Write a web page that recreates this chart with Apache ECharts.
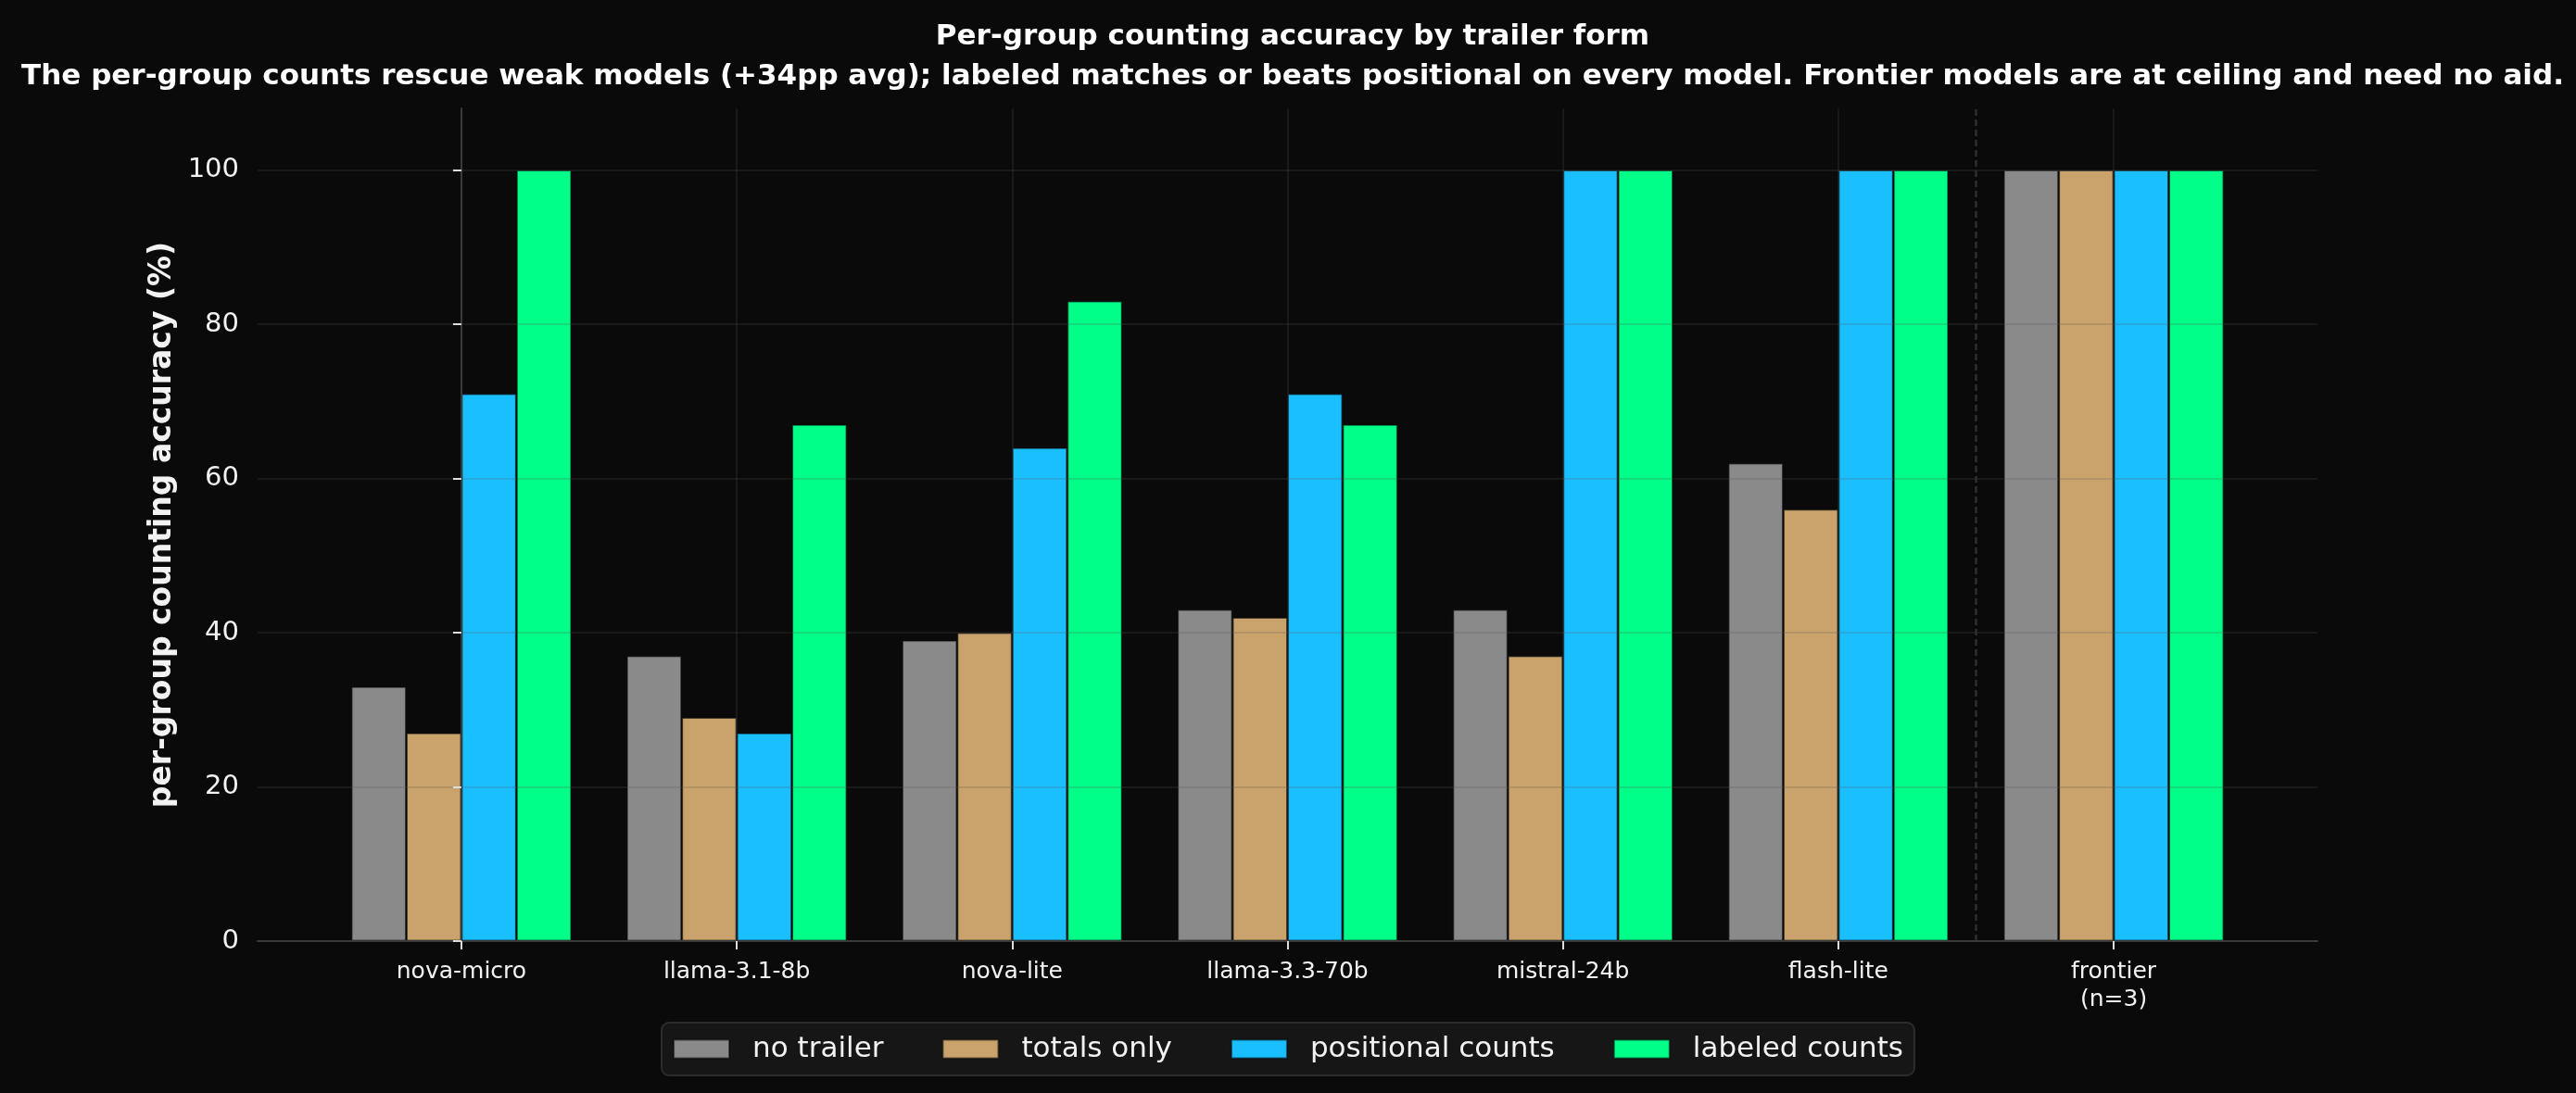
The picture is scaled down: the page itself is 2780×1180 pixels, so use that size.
<!DOCTYPE html>
<html>
<head>
<meta charset="utf-8">
<script src="https://cdn.jsdelivr.net/npm/echarts@6/dist/echarts.min.js"></script>
<style>
  html, body { margin: 0; background: #0a0a0a; }
  #chart { width: 2780px; height: 1180px; }
</style>
</head>
<body>
<div id="chart"></div>
<script>
const models = ['nova-micro', 'llama-3.1-8b', 'nova-lite', 'llama-3.3-70b', 'mistral-24b', 'flash-lite', 'frontier\n(n=3)'];
const noTrailer = [33, 37, 39, 43, 43, 62, 100];
const totalsOnly = [27, 29, 40, 42, 37, 56, 100];
const positional = [71, 27, 64, 71, 100, 100, 100];
const labeled = [100, 67, 83, 67, 100, 100, 100];
const seriesNames = ['no trailer', 'totals only', 'positional counts', 'labeled counts'];
const colors = ['#8a8a8a', '#c9a36b', '#1abfff', '#00ff88'];
const yTicks = [0, 20, 40, 60, 80, 100];
const xTicks = [0, 1, 2, 3, 4, 5, 6];
const separatorAt = 5.5;

const font = 'DejaVu Sans';
const gridLine = { color: 'rgba(85,85,85,0.28)', width: 1.5 };

var chart = echarts.init(document.getElementById('chart'));

const allValues = [noTrailer, totalsOnly, positional, labeled];
const series = allValues.map((vals, k) => ({
    name: seriesNames[k],
    type: 'bar',
    barWidth: '20%',
    barGap: '0%',
    data: vals.map((v, i) => [i, v]),
    itemStyle: {
        color: colors[k],
        borderColor: 'rgba(10,10,10,0.55)',
        borderWidth: 1.5
    }
}));
// dashed separator between the small models and the frontier group
series.push({
    type: 'line',
    data: [],
    markLine: {
        silent: true,
        symbol: ['none', 'none'],
        label: { show: false },
        lineStyle: { type: [7, 4], color: '#2e2e2e', width: 2.5 },
        data: [{ xAxis: separatorAt }]
    }
});

chart.setOption({
    animation: false,
    backgroundColor: '#0a0a0a',
    textStyle: { fontFamily: font },
    title: {
        text: 'Per-group counting accuracy by trailer form\nThe per-group counts rescue weak models (+34pp avg); labeled matches or beats positional on every model. Frontier models are at ceiling and need no aid.',
        left: 1390,
        top: 13,
        textAlign: 'center',
        textStyle: { color: '#ffffff', fontSize: 31, fontWeight: 'bold', lineHeight: 43, fontFamily: font }
    },
    legend: {
        left: 'center',
        top: 1104,
        icon: 'rect',
        itemWidth: 60,
        itemHeight: 20,
        itemGap: 63,
        padding: [13, 12, 13, 12],
        backgroundColor: '#161616',
        borderColor: '#2c2c2c',
        borderWidth: 2,
        borderRadius: 8,
        textStyle: { color: '#f2f2f2', fontSize: 31, fontFamily: font, padding: [0, 0, 0, 20] },
        data: seriesNames
    },
    grid: { left: 278, right: 279, top: 117, bottom: 164, containLabel: false },
    xAxis: {
        type: 'value',
        min: -0.74,
        max: 6.74,
        z: 5,
        axisLine: { show: true, lineStyle: { color: '#3a3a3a', width: 2 } },
        axisTick: { show: true, customValues: xTicks, length: 9, lineStyle: { color: '#dddddd', width: 2 } },
        axisLabel: {
            customValues: xTicks,
            formatter: v => models[v],
            color: '#f2f2f2',
            fontSize: 25,
            lineHeight: 30,
            margin: 18,
            fontFamily: font
        },
        splitLine: { show: true, lineStyle: gridLine }
    },
    yAxis: {
        type: 'value',
        min: 0,
        max: 108,
        z: 5,
        name: 'per-group counting accuracy (%)',
        nameLocation: 'middle',
        nameGap: 82,
        nameTextStyle: { color: '#f2f2f2', fontSize: 33, fontWeight: 'bold', fontFamily: font },
        axisLine: { show: true, lineStyle: { color: '#3a3a3a', width: 2 } },
        axisTick: { show: true, customValues: yTicks, length: 9, lineStyle: { color: '#dddddd', width: 2 } },
        axisLabel: { customValues: yTicks, color: '#f2f2f2', fontSize: 29, margin: 20, fontFamily: font },
        splitLine: { show: true, lineStyle: gridLine }
    },
    series: series
});
</script>
</body>
</html>
